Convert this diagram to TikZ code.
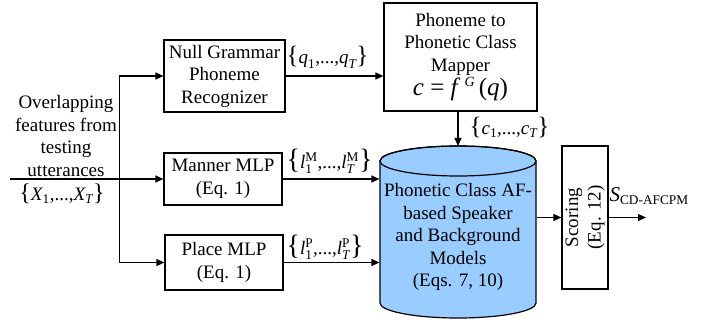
\documentclass[tikz,border=0pt]{standalone}
\usepackage{fontspec}
\usepackage{amsmath}
\setmainfont{Liberation Serif}
\usetikzlibrary{arrows.meta}

\definecolor{cylblue}{HTML}{99CCFF}

% braces set in a larger text size around a sequence
\newcommand\bigL[1]{{\fontsize{#1}{#1}\selectfont\{}}
\newcommand\bigR[1]{{\fontsize{#1}{#1}\selectfont\}}}
\newcommand\iv[1]{\textit{#1}}

\begin{document}
\begin{tikzpicture}[x=1pt,y=1pt,
    font=\fontsize{19}{22.5}\selectfont,
    line width=1.2pt,
    >={Triangle[length=8pt,width=7pt]},
    box/.style={draw, align=center, inner sep=0pt},
    lbl/.style={anchor=base west, inner sep=0pt}]
\useasboundingbox (0,0) rectangle (710,324);

% processing blocks
\node[box, minimum width=121, minimum height=72] (ngr) at (224.5,248)
  {Null Grammar\\Phoneme\\Recognizer};
\node[box, minimum width=153, minimum height=108] (map) at (460.5,267)
  {Phoneme to\\Phonetic Class\\Mapper\\[2pt]
   {\fontsize{25}{26}\selectfont \iv{c} = \iv{f}\,\raisebox{9pt}{\fontsize{14}{14}\selectfont\iv{G}}\,(\iv{q})}};
\node[box, minimum width=118, minimum height=52] (man) at (223,145)
  {Manner MLP\\(Eq. 1)};
\node[box, minimum width=118, minimum height=55] (pla) at (224,61.5)
  {Place MLP\\(Eq. 1)};

% model database drawn as a cylinder
\draw[fill=cylblue] (380,163) -- (380,21)
  arc[start angle=180, end angle=360, x radius=78, y radius=15]
  -- (536,163)
  arc[start angle=0, end angle=180, x radius=78, y radius=15] -- cycle;
\draw (458,163) ellipse[x radius=78, y radius=15];
\node[align=center, minimum width=156, inner sep=0pt] (cyl) at (458,87)
  {Phonetic Class AF-\\based Speaker\\and Background\\Models\\(Eqs. 7, 10)};
\coordinate (cyltop) at (458,178);

% scoring block
\node[box, minimum width=46, minimum height=143] (sc) at (585,106.5) {};
\node[rotate=90, align=center, inner sep=0pt] (sctext) at (sc.center)
  {Scoring\\(Eq. 12)};

% input text
\node[align=center, inner sep=0pt] (intext) at (66,188)
  {Overlapping\\features from\\testing\\utterances};
\node[inner sep=0pt] (inseq) at (62,130)
  {\bigL{24}$\iv{X}_{\text{1}}$,...,$\iv{X}_{\iv{T}}$\bigR{24}};

% input line and distribution bus
\coordinate (in) at (10,145);
\coordinate (bus) at (119.5,0);
\coordinate (out) at (646,106.5);
\draw[->] (in) -- (man.west);
\draw[->] (bus |- pla.west) -- (bus |- ngr.west) -- (ngr.west);
\draw[->] (bus |- ngr.west) -- (bus |- pla.west) -- (pla.west);

% connectors between blocks
\draw[->] (ngr.east) -- (ngr.east -| map.west);
\draw[->] (cyltop |- map.south) -- (cyltop);
\draw[->] (man.east) -- (man.east -| cyl.west);
\draw[->] (pla.east) -- (pla.east -| cyl.west);
\draw[->] (cyl.east |- sc.west) -- (sc.west);
\draw[->] (sc.east) -- (out);

% sequence labels
\node[lbl] (qlbl) at (286,260)
  {\bigL{25}$\iv{q}_{\text{1}}$,...,$\iv{q}_{\iv{T}}$\bigR{25}};
\node[lbl] (clbl) at (469,189)
  {\bigL{25}$\iv{c}_{\text{1}}$,...,$\iv{c}_{\iv{T}}$\bigR{25}};
\node[lbl] (mlbl) at (286,155)
  {\bigL{28}$\iv{l}_{\text{1}}^{\text{M}}$,...,$\iv{l}_{\iv{T}}^{\text{M}}$\bigR{28}};
\node[lbl] (plbl) at (286,69)
  {\bigL{28}$\iv{l}_{\text{1}}^{\text{P}}$,...,$\iv{l}_{\iv{T}}^{\text{P}}$\bigR{28}};
\node[lbl] (slbl) at (609,122)
  {{\fontsize{21}{21}\selectfont\iv{S}}$_{\text{CD-AFCPM}}$};
\end{tikzpicture}
\end{document}
